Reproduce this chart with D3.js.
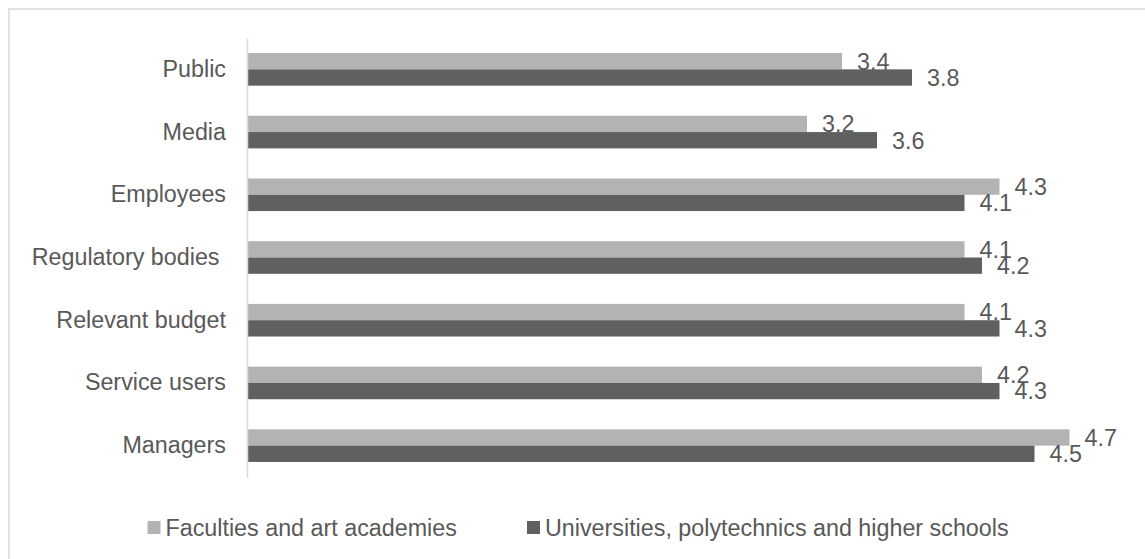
<!DOCTYPE html>
<html>
<head>
<meta charset="utf-8">
<title>Stakeholders bar chart</title>
<script src="https://cdn.jsdelivr.net/npm/d3@7"></script>
<style>
  body { margin: 0; background: #fff; }
  text { font-family: "Liberation Sans", Arial, sans-serif; fill: #595959; }
</style>
</head>
<body>
<script>
  // data, top to bottom
  var categories = ['Public', 'Media', 'Employees', 'Regulatory bodies ', 'Relevant budget', 'Service users', 'Managers'];
  var seriesNames = ['Faculties and art academies', 'Universities, polytechnics and higher schools'];
  var faculties = [3.4, 3.2, 4.3, 4.1, 4.1, 4.2, 4.7];
  var universities = [3.8, 3.6, 4.1, 4.2, 4.3, 4.3, 4.5];
  var colors = ['#b3b3b3', '#606060'];

  var width = 1145,
    height = 559,
    plotLeft = 247,
    plotTop = 38,
    plotBottom = 477,
    fontSize = '23.3px';

  var svg = d3.select('body').append('svg')
    .attr('width', width)
    .attr('height', height);

  // outer chart border (runs off the right and bottom edge)
  svg.append('rect')
    .attr('x', 9).attr('y', 9)
    .attr('width', width).attr('height', height)
    .attr('fill', 'none')
    .attr('stroke', '#d9d9d9')
    .attr('stroke-width', 1.5);

  var x = d3.scaleLinear().domain([0, 5]).range([plotLeft, plotLeft + 875]);

  var y = d3.scaleBand()
    .domain(categories)
    .range([plotTop, plotBottom])
    .paddingInner(0.48)
    .paddingOuter(0.24);

  var ySub = d3.scaleBand()
    .domain([0, 1])
    .range([0, y.bandwidth()]);

  var rows = categories.map(function (c, i) {
    return { cat: c, values: [faculties[i], universities[i]] };
  });

  var groups = svg.append('g').selectAll('g')
    .data(rows)
    .join('g')
    .attr('transform', function (d) { return 'translate(0,' + y(d.cat) + ')'; });

  groups.selectAll('rect')
    .data(function (d) { return d.values; })
    .join('rect')
    .attr('x', x(0))
    .attr('y', function (d, i) { return ySub(i); })
    .attr('width', function (d) { return x(d) - x(0); })
    .attr('height', ySub.bandwidth())
    .attr('fill', function (d, i) { return colors[i]; });

  // value labels
  groups.selectAll('text')
    .data(function (d) { return d.values; })
    .join('text')
    .attr('x', function (d) { return x(d) + 15; })
    .attr('y', function (d, i) { return ySub(i) + ySub.bandwidth() / 2; })
    .attr('dy', '0.36em')
    .style('font-size', fontSize)
    .text(function (d) { return d.toFixed(1); });

  // vertical axis line + category labels
  var yAxis = d3.axisLeft(y).tickSize(0).tickPadding(21);
  var ga = svg.append('g')
    .attr('transform', 'translate(' + plotLeft + ',0)')
    .call(yAxis);
  ga.select('.domain').attr('stroke', '#d9d9d9').attr('stroke-width', 1.5);
  ga.selectAll('text')
    .attr('fill', '#595959')
    .style('font-size', fontSize)
    .style('font-family', '"Liberation Sans", Arial, sans-serif')
    .style('white-space', 'pre');

  // legend
  var legendX = [147.5, 527];
  var legend = svg.append('g').selectAll('g')
    .data(seriesNames)
    .join('g')
    .attr('transform', function (d, i) { return 'translate(' + legendX[i] + ',521)'; });
  legend.append('rect')
    .attr('width', 13).attr('height', 13)
    .attr('fill', function (d, i) { return colors[i]; });
  legend.append('text')
    .attr('x', 18).attr('y', 6.5)
    .attr('dy', '0.36em')
    .style('font-size', fontSize)
    .text(function (d) { return d; });
</script>
</body>
</html>
